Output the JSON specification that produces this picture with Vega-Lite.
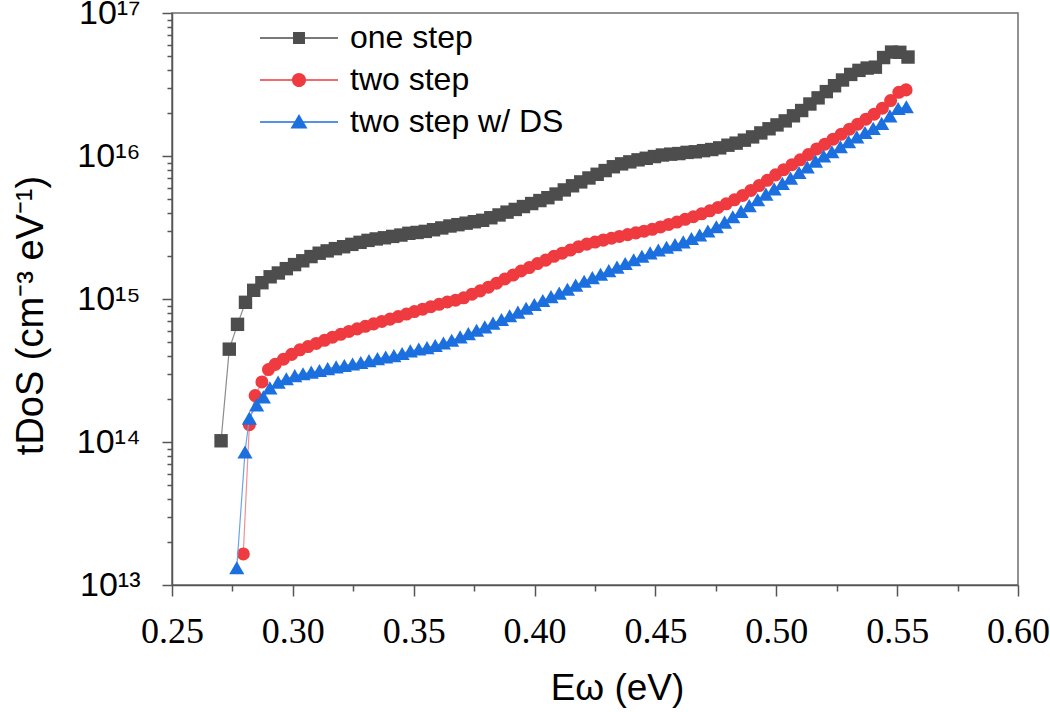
{
  "$schema": "https://vega.github.io/schema/vega-lite/v6.json",
  "width": 846,
  "height": 572,
  "autosize": {"type": "none"},
  "padding": {"left": 172, "top": 13, "right": 32, "bottom": 127},
  "background": "white",
  "config": {
    "view": {"stroke": "#6e6e6e", "strokeWidth": 1.5},
    "font": "Liberation Sans"
  },
  "datasets": {
    "one": [
      {"e":0.2703,"v":1.02e14},{"e":0.2737,"v":4.46e14},{"e":0.2771,"v":6.65e14},{"e":0.2804,"v":9.48e14},{"e":0.2838,"v":1.15e15},
      {"e":0.2872,"v":1.30e15},{"e":0.2906,"v":1.43e15},{"e":0.2940,"v":1.52e15},{"e":0.2973,"v":1.63e15},{"e":0.3007,"v":1.74e15},
      {"e":0.3041,"v":1.85e15},{"e":0.3075,"v":1.98e15},{"e":0.3109,"v":2.09e15},{"e":0.3142,"v":2.17e15},{"e":0.3176,"v":2.25e15},
      {"e":0.3210,"v":2.32e15},{"e":0.3244,"v":2.41e15},{"e":0.3278,"v":2.49e15},{"e":0.3311,"v":2.57e15},{"e":0.3345,"v":2.63e15},
      {"e":0.3379,"v":2.68e15},{"e":0.3413,"v":2.74e15},{"e":0.3447,"v":2.80e15},{"e":0.3480,"v":2.88e15},{"e":0.3514,"v":2.92e15},
      {"e":0.3548,"v":2.97e15},{"e":0.3582,"v":3.05e15},{"e":0.3616,"v":3.14e15},{"e":0.3650,"v":3.24e15},{"e":0.3683,"v":3.31e15},
      {"e":0.3717,"v":3.39e15},{"e":0.3751,"v":3.47e15},{"e":0.3785,"v":3.55e15},{"e":0.3819,"v":3.70e15},{"e":0.3853,"v":3.87e15},
      {"e":0.3886,"v":4.05e15},{"e":0.3920,"v":4.23e15},{"e":0.3954,"v":4.43e15},{"e":0.3988,"v":4.65e15},{"e":0.4022,"v":4.88e15},
      {"e":0.4055,"v":5.11e15},{"e":0.4089,"v":5.42e15},{"e":0.4123,"v":5.79e15},{"e":0.4157,"v":6.19e15},{"e":0.4191,"v":6.59e15},
      {"e":0.4225,"v":7.02e15},{"e":0.4259,"v":7.45e15},{"e":0.4292,"v":7.91e15},{"e":0.4326,"v":8.41e15},{"e":0.4360,"v":8.81e15},
      {"e":0.4394,"v":9.10e15},{"e":0.4428,"v":9.40e15},{"e":0.4462,"v":9.64e15},{"e":0.4496,"v":9.91e15},{"e":0.4529,"v":1.016e16},
      {"e":0.4563,"v":1.03e16},{"e":0.4597,"v":1.04e16},{"e":0.4631,"v":1.06e16},{"e":0.4665,"v":1.07e16},{"e":0.4699,"v":1.09e16},
      {"e":0.4733,"v":1.11e16},{"e":0.4766,"v":1.14e16},{"e":0.4800,"v":1.19e16},{"e":0.4834,"v":1.23e16},{"e":0.4868,"v":1.29e16},
      {"e":0.4902,"v":1.36e16},{"e":0.4936,"v":1.45e16},{"e":0.4970,"v":1.55e16},{"e":0.5003,"v":1.65e16},{"e":0.5037,"v":1.76e16},
      {"e":0.5071,"v":1.91e16},{"e":0.5105,"v":2.08e16},{"e":0.5139,"v":2.31e16},{"e":0.5173,"v":2.55e16},{"e":0.5207,"v":2.82e16},
      {"e":0.5241,"v":3.10e16},{"e":0.5274,"v":3.40e16},{"e":0.5308,"v":3.72e16},{"e":0.5342,"v":3.97e16},{"e":0.5376,"v":4.12e16},
      {"e":0.5410,"v":4.18e16},{"e":0.5444,"v":4.88e16},{"e":0.5477,"v":5.33e16},{"e":0.5511,"v":5.31e16},{"e":0.5545,"v":4.92e16}
    ],
    "two": [
      {"e":0.2795,"v":1.65e13},{"e":0.2820,"v":1.32e14},{"e":0.2844,"v":2.11e14},{"e":0.2872,"v":2.63e14},{"e":0.2899,"v":3.21e14},
      {"e":0.2927,"v":3.49e14},{"e":0.2961,"v":3.79e14},{"e":0.2995,"v":4.10e14},{"e":0.3029,"v":4.41e14},{"e":0.3063,"v":4.65e14},
      {"e":0.3097,"v":4.89e14},{"e":0.3131,"v":5.14e14},{"e":0.3164,"v":5.41e14},{"e":0.3198,"v":5.66e14},{"e":0.3232,"v":5.93e14},
      {"e":0.3266,"v":6.18e14},{"e":0.3300,"v":6.44e14},{"e":0.3334,"v":6.70e14},{"e":0.3368,"v":6.97e14},{"e":0.3402,"v":7.23e14},
      {"e":0.3436,"v":7.54e14},{"e":0.3470,"v":7.85e14},{"e":0.3503,"v":8.17e14},{"e":0.3537,"v":8.49e14},{"e":0.3571,"v":8.83e14},
      {"e":0.3605,"v":9.18e14},{"e":0.3639,"v":9.53e14},{"e":0.3673,"v":9.80e14},{"e":0.3707,"v":1.019e15},{"e":0.3741,"v":1.08e15},
      {"e":0.3775,"v":1.14e15},{"e":0.3809,"v":1.21e15},{"e":0.3843,"v":1.29e15},{"e":0.3877,"v":1.38e15},{"e":0.3911,"v":1.47e15},
      {"e":0.3944,"v":1.57e15},{"e":0.3978,"v":1.66e15},{"e":0.4012,"v":1.77e15},{"e":0.4046,"v":1.87e15},{"e":0.4080,"v":1.99e15},
      {"e":0.4114,"v":2.09e15},{"e":0.4148,"v":2.20e15},{"e":0.4182,"v":2.32e15},{"e":0.4216,"v":2.42e15},{"e":0.4250,"v":2.50e15},
      {"e":0.4284,"v":2.58e15},{"e":0.4318,"v":2.66e15},{"e":0.4351,"v":2.74e15},{"e":0.4385,"v":2.82e15},{"e":0.4419,"v":2.90e15},
      {"e":0.4453,"v":2.98e15},{"e":0.4487,"v":3.07e15},{"e":0.4521,"v":3.19e15},{"e":0.4555,"v":3.32e15},{"e":0.4589,"v":3.45e15},
      {"e":0.4623,"v":3.61e15},{"e":0.4657,"v":3.76e15},{"e":0.4691,"v":3.94e15},{"e":0.4725,"v":4.14e15},{"e":0.4759,"v":4.37e15},
      {"e":0.4793,"v":4.63e15},{"e":0.4827,"v":4.94e15},{"e":0.4861,"v":5.30e15},{"e":0.4895,"v":5.74e15},{"e":0.4929,"v":6.21e15},
      {"e":0.4963,"v":6.76e15},{"e":0.4997,"v":7.38e15},{"e":0.5031,"v":8.02e15},{"e":0.5065,"v":8.69e15},{"e":0.5099,"v":9.40e15},
      {"e":0.5133,"v":1.023e16},{"e":0.5167,"v":1.12e16},{"e":0.5201,"v":1.21e16},{"e":0.5235,"v":1.31e16},{"e":0.5269,"v":1.42e16},
      {"e":0.5303,"v":1.54e16},{"e":0.5337,"v":1.67e16},{"e":0.5371,"v":1.81e16},{"e":0.5405,"v":1.96e16},{"e":0.5439,"v":2.16e16},
      {"e":0.5473,"v":2.44e16},{"e":0.5507,"v":2.79e16},{"e":0.5537,"v":2.90e16}
    ],
    "ds": [
      {"e":0.2768,"v":1.32e13},{"e":0.2802,"v":8.51e13},{"e":0.2820,"v":1.47e14},{"e":0.2850,"v":1.82e14},{"e":0.2878,"v":2.07e14},
      {"e":0.2905,"v":2.39e14},{"e":0.2939,"v":2.62e14},{"e":0.2973,"v":2.77e14},{"e":0.3008,"v":2.91e14},{"e":0.3042,"v":3.00e14},
      {"e":0.3076,"v":3.08e14},{"e":0.3110,"v":3.16e14},{"e":0.3144,"v":3.26e14},{"e":0.3179,"v":3.35e14},{"e":0.3213,"v":3.43e14},
      {"e":0.3247,"v":3.51e14},{"e":0.3281,"v":3.60e14},{"e":0.3315,"v":3.71e14},{"e":0.3350,"v":3.83e14},{"e":0.3384,"v":3.93e14},
      {"e":0.3418,"v":4.02e14},{"e":0.3452,"v":4.16e14},{"e":0.3486,"v":4.34e14},{"e":0.3521,"v":4.47e14},{"e":0.3555,"v":4.57e14},
      {"e":0.3589,"v":4.73e14},{"e":0.3623,"v":4.92e14},{"e":0.3657,"v":5.15e14},{"e":0.3692,"v":5.43e14},{"e":0.3726,"v":5.73e14},
      {"e":0.3760,"v":6.05e14},{"e":0.3794,"v":6.38e14},{"e":0.3828,"v":6.78e14},{"e":0.3863,"v":7.19e14},{"e":0.3897,"v":7.64e14},
      {"e":0.3931,"v":8.09e14},{"e":0.3965,"v":8.61e14},{"e":0.3999,"v":9.16e14},{"e":0.4034,"v":9.77e14},{"e":0.4068,"v":1.04e15},
      {"e":0.4102,"v":1.10e15},{"e":0.4136,"v":1.17e15},{"e":0.4170,"v":1.25e15},{"e":0.4205,"v":1.33e15},{"e":0.4239,"v":1.41e15},
      {"e":0.4273,"v":1.49e15},{"e":0.4307,"v":1.58e15},{"e":0.4341,"v":1.67e15},{"e":0.4375,"v":1.77e15},{"e":0.4410,"v":1.88e15},
      {"e":0.4444,"v":1.99e15},{"e":0.4478,"v":2.10e15},{"e":0.4512,"v":2.20e15},{"e":0.4546,"v":2.30e15},{"e":0.4581,"v":2.40e15},
      {"e":0.4615,"v":2.51e15},{"e":0.4649,"v":2.65e15},{"e":0.4683,"v":2.80e15},{"e":0.4717,"v":2.99e15},{"e":0.4752,"v":3.20e15},
      {"e":0.4786,"v":3.45e15},{"e":0.4820,"v":3.76e15},{"e":0.4854,"v":4.10e15},{"e":0.4888,"v":4.50e15},{"e":0.4923,"v":4.94e15},
      {"e":0.4957,"v":5.41e15},{"e":0.4991,"v":5.89e15},{"e":0.5025,"v":6.43e15},{"e":0.5059,"v":7.00e15},{"e":0.5094,"v":7.66e15},
      {"e":0.5128,"v":8.38e15},{"e":0.5162,"v":9.20e15},{"e":0.5196,"v":1.00e16},{"e":0.5230,"v":1.07e16},{"e":0.5265,"v":1.16e16},
      {"e":0.5299,"v":1.26e16},{"e":0.5333,"v":1.36e16},{"e":0.5367,"v":1.46e16},{"e":0.5401,"v":1.56e16},{"e":0.5436,"v":1.69e16},
      {"e":0.5470,"v":1.91e16},{"e":0.5504,"v":2.15e16},{"e":0.5538,"v":2.21e16}
    ]
  },
  "encoding": {
    "x": {
      "field": "e", "type": "quantitative",
      "scale": {"domain": [0.25, 0.6], "nice": false, "zero": false},
      "axis": {
        "values": [0.25,0.275,0.3,0.325,0.35,0.375,0.4,0.425,0.45,0.475,0.5,0.525,0.55,0.575,0.6],
        "labelExpr": "abs(datum.value*20 - round(datum.value*20)) < 0.001 ? format(datum.value, '.2f') : ''",
        "grid": false,
        "labelOverlap": false, "labelFlush": false, "labelBound": false,
        "labelFont": "Liberation Sans Narrow", "labelFontSize": 36, "labelColor": "#000",
        "labelPadding": 18,
        "tickSize": {"condition": {"test": "abs(datum.value*20 - round(datum.value*20)) < 0.001", "value": 11}, "value": 6},
        "tickColor": "#555", "tickWidth": 1.5,
        "domainColor": "#555", "domainWidth": 1.5,
        "title": "Eω (eV)",
        "titleFont": "Liberation Sans", "titleFontSize": 37, "titleFontWeight": "normal", "titleColor": "#000",
        "titleX": 445, "titleY": 85, "titleBaseline": "top", "titleAlign": "center"
      }
    },
    "y": {
      "field": "v", "type": "quantitative",
      "scale": {"type": "log", "domain": [1e13, 1e17], "nice": false},
      "axis": {
        "values": [1e13,2e13,3e13,4e13,5e13,6e13,7e13,8e13,9e13,1e14,2e14,3e14,4e14,5e14,6e14,7e14,8e14,9e14,1e15,2e15,3e15,4e15,5e15,6e15,7e15,8e15,9e15,1e16,2e16,3e16,4e16,5e16,6e16,7e16,8e16,9e16,1e17],
        "labelExpr": "datum.value == 1e13 ? '10¹³' : datum.value == 1e14 ? '10¹⁴' : datum.value == 1e15 ? '10¹⁵' : datum.value == 1e16 ? '10¹⁶' : datum.value == 1e17 ? '10¹⁷' : ''",
        "grid": false,
        "labelOverlap": false, "labelBound": false, "labelFlush": false,
        "labelFont": "Liberation Sans", "labelFontSize": 34, "labelColor": "#000",
        "labelPadding": 22,
        "tickSize": {"condition": {"test": "abs(log(datum.value)/LN10 - round(log(datum.value)/LN10)) < 0.001", "value": 10}, "value": 5},
        "tickColor": "#555", "tickWidth": 1.5,
        "domainColor": "#555", "domainWidth": 1.5,
        "title": "tDoS (cm⁻³ eV⁻¹)",
        "titleFont": "Liberation Sans", "titleFontSize": 38, "titleFontWeight": "normal", "titleColor": "#000",
        "titleX": -141, "titleY": 302, "titleAngle": -90, "titleAlign": "center", "titleBaseline": "middle"
      }
    }
  },
  "layer": [
    {"data": {"name": "one"}, "mark": {"type": "line", "color": "#8c8c8c", "strokeWidth": 1.2}, "encoding": {}},
    {"data": {"name": "one"}, "mark": {"type": "point", "filled": true, "shape": "square", "size": 180, "opacity": 1, "color": "#4d4d4d"}, "encoding": {}},
    {"data": {"name": "two"}, "mark": {"type": "line", "color": "#f58e91", "strokeWidth": 1.2}, "encoding": {}},
    {"data": {"name": "two"}, "mark": {"type": "point", "filled": true, "shape": "circle", "size": 170, "opacity": 1, "color": "#ef3a3f"}, "encoding": {}},
    {"data": {"name": "ds"}, "mark": {"type": "line", "color": "#6aa3ec", "strokeWidth": 1.2}, "encoding": {}},
    {"data": {"name": "ds"}, "mark": {"type": "point", "filled": true, "shape": "triangle-up", "size": 230, "opacity": 1, "color": "#1b6fde"}, "encoding": {}},
    {"data": {"values": []}, "mark": {"type": "point", "filled": true, "opacity": 1},
     "encoding": {
       "color": {"datum": "one step", "type": "nominal",
         "scale": {"domain": ["one step", "two step", "two step w/ DS"], "range": ["#4d4d4d", "#ef3a3f", "#1b6fde"]},
         "legend": {
           "orient": "none", "legendX": 111, "legendY": 9, "title": null, "padding": 0,
           "labelFont": "Liberation Sans", "labelFontSize": 32, "labelColor": "#000", "labelLimit": 0,
           "symbolSize": 169, "labelOffset": 35, "rowPadding": 10
         }},
       "shape": {"datum": "one step", "type": "nominal",
         "scale": {"domain": ["one step", "two step", "two step w/ DS"],
           "range": [
             "M-6,-0.11H6V0.11H-6ZM-0.92,-0.92H0.92V0.92H-0.92Z",
             "M-6,-0.11H6V0.11H-6ZM1.08,0A1.08,1.08,0,1,1,-1.08,0A1.08,1.08,0,1,1,1.08,0Z",
             "M-6,-0.11H6V0.11H-6ZM0,-1.25L1.3,1L-1.3,1Z"
           ]},
         "legend": {
           "orient": "none", "legendX": 111, "legendY": 9, "title": null, "padding": 0,
           "labelFont": "Liberation Sans", "labelFontSize": 32, "labelColor": "#000", "labelLimit": 0,
           "symbolSize": 169, "labelOffset": 35, "rowPadding": 10
         }}
     }}
  ]
}
